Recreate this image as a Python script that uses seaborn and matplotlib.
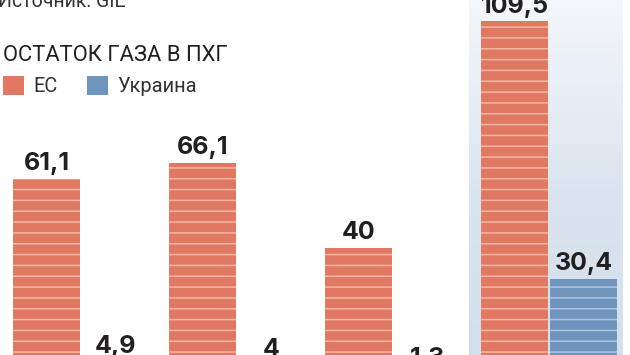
import matplotlib
matplotlib.use('Agg')
import matplotlib.pyplot as plt
import seaborn as sns
import pandas as pd
import numpy as np
from matplotlib.colors import LinearSegmentedColormap
from matplotlib.patches import Patch

# ---- data ----
periods = ['1', '2', '3', '4']          # group labels are cut off in the reference
eu = [61.1, 66.1, 40.0, 109.5]
ua = [4.9, 4.0, 1.3, 30.4]
series = ['ЕС', 'Украина']
title = 'ОСТАТОК ГАЗА В ПХГ'
source = 'Источник: GIE'

df = pd.DataFrame({
    'period': periods * 2,
    'region': [series[0]] * len(eu) + [series[1]] * len(ua),
    'value': eu + ua,
})

sns.set_theme(style='white')
plt.rcParams['font.family'] = ['Roboto', 'DejaVu Sans']
plt.rcParams['hatch.linewidth'] = 1.7

DPI = 65
W, H = 630, 355
def pt(px):
    return px * 72 / DPI

fig = plt.figure(figsize=(W / DPI, H / DPI), dpi=DPI)
fig.patch.set_facecolor('white')
ax = fig.add_axes([0, -23 / H, 1, 378 / H])

colors = {series[0]: '#e07862', series[1]: '#6f94be'}
stripe = {series[0]: '#f5b6a6', series[1]: '#afc5dd'}

sns.barplot(data=df, x='period', y='value', hue='region', palette=colors,
            width=0.885, gap=0.04, saturation=1, errorbar=None,
            legend=False, ax=ax, zorder=3)

# gradient highlight panel behind the last group
grad = LinearSegmentedColormap.from_list('g', ['#d2deeb', '#dbe5ef', '#f4f7fb'])
ax.imshow(np.linspace(0, 1, 256).reshape(-1, 1), cmap=grad, origin='lower',
          extent=[3 - 0.51, 3 + 0.475, 0, 116], aspect='auto', zorder=0)
ax.set_xlim(-0.519, 3.519)
ax.set_ylim(0, 116)
ax.set_axis_off()

for cont, name, vals in zip(ax.containers, series, [eu, ua]):
    for p in cont:
        p.set_hatch('-')
        p.set_edgecolor(stripe[name])
        p.set_linewidth(0)
    ax.bar_label(cont, labels=[f'{v:g}'.replace('.', ',') for v in vals],
                 padding=4, fontsize=pt(25), fontweight='bold', color='#231f20',
                 family=['Inter', 'DejaVu Sans'])

fig.text(-2 / W, 1 - 7 / H, source, fontsize=pt(19.5), color='#333333',
         ha='left', va='baseline')
fig.text(3 / W, 1 - 61 / H, title, fontsize=pt(22), color='#231f20',
         ha='left', va='baseline', fontweight='normal')

handles = [Patch(facecolor=colors[s], edgecolor='none') for s in series]
fig.legend(handles, series, loc='upper left', bbox_to_anchor=(3 / W, 1 - 76 / H),
           ncol=2, frameon=False, fontsize=pt(20), handlelength=1.05,
           handleheight=1.05, handletextpad=0.45, columnspacing=1.5,
           borderpad=0, borderaxespad=0, labelcolor='#333333')

fig.savefig('out.png', dpi=DPI, facecolor='white')
